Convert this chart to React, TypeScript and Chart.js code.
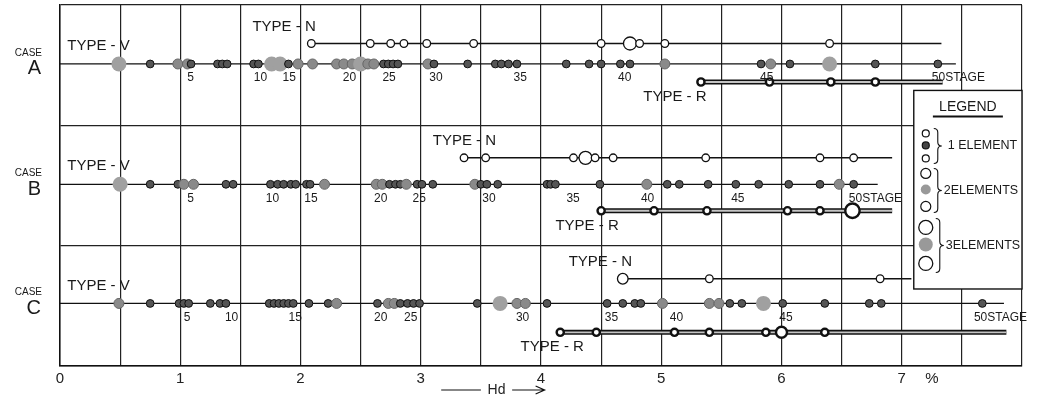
import React, { useEffect, useRef } from 'react';
import { Chart, registerables } from 'chart.js';

Chart.register(...registerables);

// ---- categories / rows ----
const caseNames = ['A', 'B', 'C'];
const rowV = [2.51, 1.51, 0.52];
const rowN = [2.68, 1.73, 0.725];
const rowR = [2.36, 1.29, 0.28];

// ---- CASE A ----
const aVx = [0.49, 0.75, 0.98, 1.06, 1.09, 1.31, 1.35, 1.39, 1.61, 1.65, 1.76, 1.83, 1.90, 1.98, 2.10, 2.30, 2.36, 2.43, 2.50, 2.56, 2.61, 2.69, 2.73, 2.77, 2.81, 3.06, 3.11, 3.39, 3.62, 3.67, 3.73, 3.80, 4.21, 4.40, 4.50, 4.66, 4.74, 5.03, 5.83, 5.91, 6.07, 6.40, 6.78, 7.30];
const aVn = [3, 1, 2, 2, 1, 1, 1, 1, 1, 1, 3, 3, 1, 2, 2, 2, 2, 2, 3, 2, 2, 1, 1, 1, 1, 2, 1, 1, 1, 1, 1, 1, 1, 1, 1, 1, 1, 2, 1, 2, 1, 3, 1, 1];
const aNx = [2.09, 2.58, 2.75, 2.86, 3.05, 3.44, 4.50, 4.74, 4.82, 5.03, 6.40];
const aNn = [1, 1, 1, 1, 1, 1, 1, 3, 1, 1, 1];
const aRx = [5.33, 5.90, 6.41, 6.78];
const aRn = [1, 1, 1, 1];

// ---- CASE B ----
const bVx = [0.50, 0.75, 0.98, 1.03, 1.11, 1.38, 1.44, 1.75, 1.81, 1.86, 1.92, 1.96, 2.05, 2.08, 2.20, 2.63, 2.68, 2.74, 2.79, 2.83, 2.88, 2.97, 3.01, 3.10, 3.45, 3.50, 3.55, 3.64, 4.05, 4.08, 4.12, 4.49, 4.88, 5.05, 5.15, 5.39, 5.62, 5.81, 6.06, 6.32, 6.48, 6.60];
const bVn = [3, 1, 1, 2, 2, 1, 1, 1, 1, 1, 1, 1, 1, 1, 2, 2, 2, 1, 1, 1, 2, 1, 1, 1, 2, 1, 1, 1, 1, 1, 1, 1, 2, 1, 1, 1, 1, 1, 1, 1, 2, 1];
const bNx = [3.36, 3.54, 4.27, 4.37, 4.45, 4.60, 5.37, 6.32, 6.60];
const bNn = [1, 1, 1, 3, 1, 1, 1, 1, 1];
const bRx = [4.50, 4.94, 5.38, 6.05, 6.32, 6.59];
const bRn = [1, 1, 1, 1, 1, 3];

// ---- CASE C ----
const cVx = [0.49, 0.75, 0.99, 1.03, 1.07, 1.25, 1.33, 1.38, 1.74, 1.78, 1.82, 1.86, 1.90, 1.94, 2.07, 2.23, 2.30, 2.64, 2.73, 2.78, 2.83, 2.89, 2.94, 2.99, 3.47, 3.66, 3.80, 3.87, 4.05, 4.55, 4.68, 4.78, 4.83, 5.01, 5.40, 5.48, 5.57, 5.67, 5.85, 6.01, 6.36, 6.73, 6.83, 7.67];
const cVn = [2, 1, 1, 1, 1, 1, 1, 1, 1, 1, 1, 1, 1, 1, 1, 1, 2, 1, 2, 2, 1, 1, 1, 1, 1, 3, 2, 2, 1, 1, 1, 1, 1, 2, 2, 2, 1, 1, 3, 1, 1, 1, 1, 1];
const cNx = [4.68, 5.40, 6.82];
const cNn = [2, 1, 1];
const cRx = [4.16, 4.46, 5.11, 5.40, 5.87, 6.00, 6.36];
const cRn = [1, 1, 1, 1, 1, 2, 1];

// ---- line ends ----
const lineEndV = [7.45, 6.80, 7.85];
const lineEndN = [7.33, 6.92, 7.08];
const lineEndR = [7.34, 6.92, 7.87];

// ---- stage labels ----
const stageLabels = ['5', '10', '15', '20', '25', '30', '35', '40', '45'];
const aStageX = [1.07, 1.65, 1.89, 2.39, 2.72, 3.11, 3.81, 4.68, 5.86];
const bStageX = [1.07, 1.75, 2.07, 2.65, 2.97, 3.55, 4.25, 4.87, 5.62];
const cStageX = [1.04, 1.41, 1.94, 2.65, 2.90, 3.83, 4.57, 5.11, 6.02];
const stage50X = [7.25, 6.56, 7.60];

// ---- type label positions (x value of left edge) ----
const typeVLabelX = [0.06, 0.06, 0.06];
const typeNLabelX = [1.60, 3.10, 4.23];
const typeRLabelX = [4.85, 4.12, 3.83];

const FONT = '"Liberation Sans", Arial, sans-serif';

const caseTable = [
  { vx: aVx, vn: aVn, nx: aNx, nn: aNn, rx: aRx, rn: aRn, sx: aStageX },
  { vx: bVx, vn: bVn, nx: bNx, nn: bNn, rx: bRx, rn: bRn, sx: bStageX },
  { vx: cVx, vn: cVn, nx: cNx, nn: cNn, rx: cRx, rn: cRn, sx: cStageX },
];

const vRad = (n: number) => (n === 1 ? 3.9 : n === 2 ? 5 : 7.5);
const vBg = (n: number) => (n === 1 ? '#555555' : n === 2 ? '#8a8a8a' : '#a0a0a0');
const vBc = (n: number) => (n === 1 ? '#111111' : n === 2 ? '#666666' : '#a0a0a0');
const vBw = (n: number) => (n === 3 ? 0 : 1);
const nRad = (n: number) => (n === 1 ? 3.8 : n === 2 ? 5.3 : 6.5);
const rRad = (n: number) => (n === 1 ? 3.6 : n === 2 ? 5.5 : 7.2);

function buildDatasets() {
  const ds: any[] = [];
  caseTable.forEach((c, i) => {
    ds.push({
      label: `V${i}`,
      data: c.vx.map((x) => ({ x, y: rowV[i] })),
      showLine: false,
      pointRadius: c.vn.map(vRad),
      pointBackgroundColor: c.vn.map(vBg),
      pointBorderColor: c.vn.map(vBc),
      pointBorderWidth: c.vn.map(vBw),
      order: 0,
    });
    ds.push({
      label: `N${i}`,
      data: c.nx.map((x) => ({ x, y: rowN[i] })),
      showLine: false,
      pointRadius: c.nn.map(nRad),
      pointBackgroundColor: '#ffffff',
      pointBorderColor: '#111111',
      pointBorderWidth: 1.3,
      order: 0,
    });
    ds.push({
      label: `R${i}`,
      data: c.rx.map((x) => ({ x, y: rowR[i] })),
      showLine: false,
      pointRadius: c.rn.map(rRad),
      pointBackgroundColor: '#ffffff',
      pointBorderColor: '#111111',
      pointBorderWidth: 2.4,
      order: 0,
    });
    ds.push({
      label: `Vline${i}`,
      data: [{ x: 0, y: rowV[i] }, { x: lineEndV[i], y: rowV[i] }],
      showLine: true,
      borderColor: '#111111',
      borderWidth: 1.2,
      pointRadius: 0,
      order: 5,
    });
    ds.push({
      label: `Nline${i}`,
      data: [{ x: c.nx[0], y: rowN[i] }, { x: lineEndN[i], y: rowN[i] }],
      showLine: true,
      borderColor: '#111111',
      borderWidth: 1.6,
      pointRadius: 0,
      order: 5,
    });
    ds.push({
      label: `Rline${i}`,
      data: [{ x: c.rx[0], y: rowR[i] }, { x: lineEndR[i], y: rowR[i] }],
      showLine: true,
      borderColor: '#111111',
      borderWidth: 5,
      pointRadius: 0,
      order: 4,
    });
    ds.push({
      label: `Rinner${i}`,
      data: [{ x: c.rx[0], y: rowR[i] }, { x: lineEndR[i], y: rowR[i] }],
      showLine: true,
      borderColor: '#c4c4c4',
      borderWidth: 1.8,
      pointRadius: 0,
      order: 3,
    });
  });
  return ds;
}

function drawBrace(ctx: CanvasRenderingContext2D, x: number, y1: number, y2: number, w: number) {
  const mid = (y1 + y2) / 2;
  const h = w / 2;
  ctx.beginPath();
  ctx.moveTo(x, y1);
  ctx.quadraticCurveTo(x + h, y1, x + h, y1 + h);
  ctx.lineTo(x + h, mid - h);
  ctx.quadraticCurveTo(x + h, mid, x + w, mid);
  ctx.quadraticCurveTo(x + h, mid, x + h, mid + h);
  ctx.lineTo(x + h, y2 - h);
  ctx.quadraticCurveTo(x + h, y2, x, y2);
  ctx.stroke();
}

const annotPlugin = {
  id: 'annot',
  afterDraw(chart: any) {
    const { ctx, chartArea: ca, scales } = chart;
    const px = (v: number) => scales.x.getPixelForValue(v);
    const py = (v: number) => scales.y.getPixelForValue(v);
    ctx.save();
    ctx.fillStyle = '#1a1a1a';
    ctx.strokeStyle = '#111';
    ctx.textBaseline = 'middle';

    caseTable.forEach((c, i) => {
      const yv = py(rowV[i]);
      // case labels
      ctx.textAlign = 'right';
      ctx.font = `10px ${FONT}`;
      ctx.fillText('CASE', 42, yv - 11);
      ctx.font = `20px ${FONT}`;
      ctx.fillText(caseNames[i], 41, yv + 5);
      // type labels
      ctx.textAlign = 'left';
      ctx.font = `15px ${FONT}`;
      ctx.fillText('TYPE - V', px(typeVLabelX[i]), yv - 18);
      ctx.fillText('TYPE - N', px(typeNLabelX[i]), py(rowN[i]) - 17);
      ctx.fillText('TYPE - R', px(typeRLabelX[i]), py(rowR[i]) + 15);
      // stage labels
      ctx.font = `12px ${FONT}`;
      ctx.textAlign = 'center';
      c.sx.forEach((sx, k) => ctx.fillText(stageLabels[k], px(sx) + 2, yv + 14));
      ctx.textAlign = 'left';
      ctx.fillText('50STAGE', px(stage50X[i]), yv + 14);
    });

    // percent sign
    ctx.font = `15px ${FONT}`;
    ctx.textAlign = 'center';
    ctx.fillStyle = '#222';
    ctx.fillText('%', px(7.25), ca.bottom + 13);

    // Hd arrow
    const ya = ca.bottom + 24;
    ctx.lineWidth = 1.2;
    ctx.beginPath();
    ctx.moveTo(px(3.17), ya);
    ctx.lineTo(px(3.5), ya);
    ctx.moveTo(px(3.76), ya);
    ctx.lineTo(px(4.03), ya);
    ctx.moveTo(px(4.03) - 9, ya - 4);
    ctx.lineTo(px(4.03), ya);
    ctx.lineTo(px(4.03) - 9, ya + 4);
    ctx.stroke();
    ctx.font = `14px ${FONT}`;
    ctx.fillText('Hd', px(3.63), ya);

    // legend box
    const l = px(7.1);
    const r = ca.right;
    const t = py(2.29);
    const b = py(0.64);
    ctx.fillStyle = '#ffffff';
    ctx.fillRect(l, t, r - l, b - t);
    ctx.lineWidth = 1.4;
    ctx.strokeRect(l, t, r - l, b - t);
    ctx.fillStyle = '#1a1a1a';
    const cx = (l + r) / 2;
    ctx.font = `14px ${FONT}`;
    ctx.textAlign = 'center';
    ctx.fillText('LEGEND', cx, t + 17);
    ctx.lineWidth = 2;
    ctx.beginPath();
    ctx.moveTo(cx - 35, t + 26);
    ctx.lineTo(cx + 35, t + 26);
    ctx.stroke();

    const circ = (y: number, rad: number, fill: string, lw: number) => {
      ctx.beginPath();
      ctx.arc(l + 12, y, rad, 0, Math.PI * 2);
      ctx.fillStyle = fill;
      ctx.fill();
      if (lw > 0) {
        ctx.lineWidth = lw;
        ctx.strokeStyle = '#111';
        ctx.stroke();
      }
    };
    circ(t + 43, 3.5, '#fff', 1.2);
    circ(t + 55, 3.5, '#444', 1.2);
    circ(t + 68, 3.5, '#fff', 1.2);
    circ(t + 83, 5, '#fff', 1.2);
    circ(t + 99, 5, '#999', 0);
    circ(t + 116, 5, '#fff', 1.2);
    circ(t + 137, 7, '#fff', 1.3);
    circ(t + 154, 7, '#999', 0);
    circ(t + 173, 7, '#fff', 1.3);

    ctx.lineWidth = 1.1;
    ctx.strokeStyle = '#111';
    drawBrace(ctx, l + 20, t + 38, t + 73, 8);
    drawBrace(ctx, l + 20, t + 78, t + 122, 8);
    drawBrace(ctx, l + 22, t + 128, t + 182, 8);

    ctx.fillStyle = '#1a1a1a';
    ctx.textAlign = 'left';
    ctx.font = `12.5px ${FONT}`;
    ctx.fillText('1 ELEMENT', l + 34, t + 55);
    ctx.fillText('2ELEMENTS', l + 30, t + 100);
    ctx.fillText('3ELEMENTS', l + 32, t + 155);

    ctx.restore();
  },
};

export default function App() {
  const canvasRef = useRef<HTMLCanvasElement | null>(null);

  useEffect(() => {
    if (!canvasRef.current) return;
    const chart = new Chart(canvasRef.current, {
      type: 'scatter',
      data: { datasets: buildDatasets() },
      options: {
        animation: false,
        responsive: true,
        maintainAspectRatio: false,
        events: [],
        layout: { padding: { left: 60, right: 16, top: 5, bottom: 6 }, autoPadding: false },
        plugins: { legend: { display: false }, tooltip: { enabled: false } },
        scales: {
          x: {
            type: 'linear',
            min: 0,
            max: 8,
            grid: { color: '#222', lineWidth: 1.2, drawTicks: false },
            border: { display: true, color: '#111', width: 1.5 },
            ticks: {
              stepSize: 0.5,
              autoSkip: false,
              maxRotation: 0,
              padding: 4,
              color: '#222',
              font: { family: FONT, size: 15 },
              callback: (v: any) => {
                const n = Number(v);
                return Math.abs(n - Math.round(n)) < 1e-6 && n < 7.5 ? String(Math.round(n)) : '';
              },
            },
          },
          y: {
            type: 'linear',
            min: 0,
            max: 3,
            grid: { color: '#222', lineWidth: 1.2, drawTicks: false },
            border: { display: true, color: '#111', width: 1.5 },
            ticks: { stepSize: 1, display: false },
          },
        },
      } as any,
      plugins: [annotPlugin],
    });
    return () => chart.destroy();
  }, []);

  return (
    <div style={{ position: 'fixed', left: 0, top: 0, width: 1038, height: 398, background: '#fff' }}>
      <canvas ref={canvasRef} />
    </div>
  );
}
